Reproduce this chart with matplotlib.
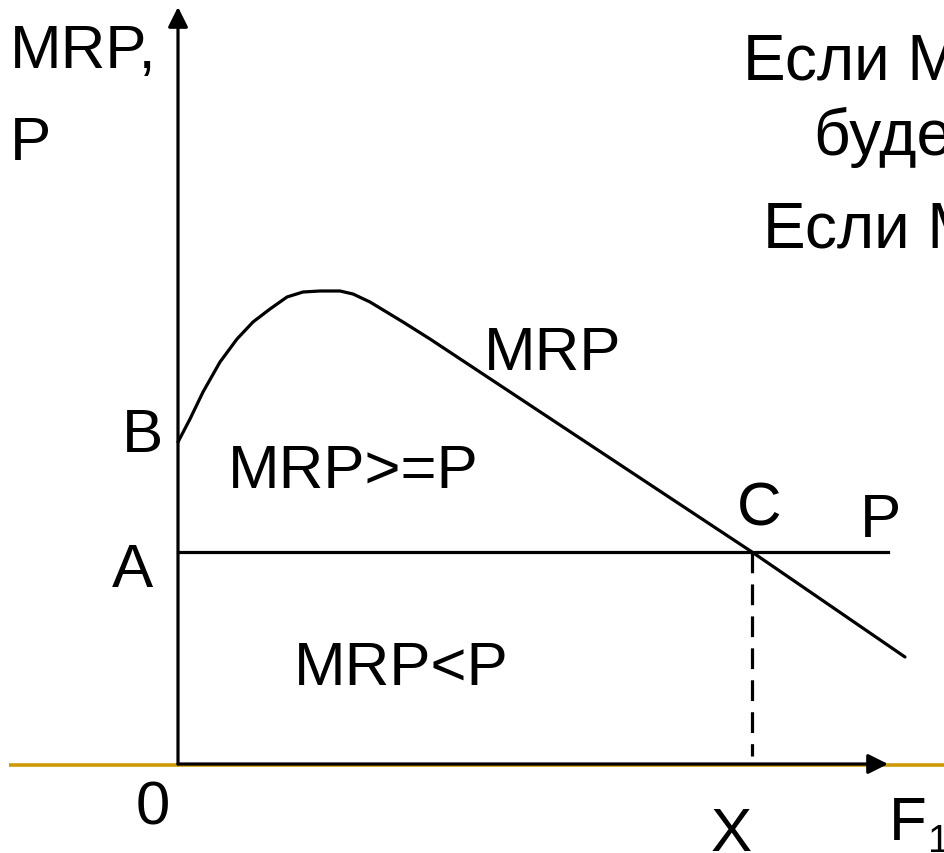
import matplotlib
matplotlib.use("Agg")
import matplotlib.pyplot as plt

# --- data (economic units: quantity of factor, value) ---
mrp_x = [0, 12, 25, 42, 59, 75, 92, 109, 125, 142, 162, 175, 192, 225, 252, 574, 727]
mrp_y = [322, 345, 372, 402, 425, 442, 455, 467, 472, 473, 473, 470, 462, 442, 425, 212, 107]
price = 212
price_x = [0, 710]
x_eq = 574
x_axis_end = 710
y_axis_end = 757

W, H = 944, 854
OX, OY = 178, 765  # origin in pixels

plt.rcParams['font.family'] = ['Liberation Sans', 'DejaVu Sans']
fig = plt.figure(figsize=(W / 100, H / 100), dpi=100)
ax = fig.add_axes([0, 0, 1, 1])
ax.set_xlim(-OX, W - OX)
ax.set_ylim(-(H - OY), OY)
ax.axis('off')

lw = 2.3
# golden baseline
ax.plot([-OX + 9, W - OX], [-1, -1], color='#CC9A06', lw=2.6, solid_capstyle='butt', zorder=1)

# axes with arrows
ax.annotate('', xy=(0, y_axis_end), xytext=(0, 0),
            arrowprops=dict(arrowstyle='-|>', lw=lw, color='black', mutation_scale=30,
                            shrinkA=0, shrinkB=0), zorder=3)
ax.annotate('', xy=(x_axis_end, 0), xytext=(0, 0),
            arrowprops=dict(arrowstyle='-|>', lw=lw, color='black', mutation_scale=30,
                            shrinkA=0, shrinkB=0), zorder=3)

# MRP curve
ax.plot(mrp_x, mrp_y, color='black', lw=lw, solid_joinstyle='round',
        solid_capstyle='round', zorder=3)
# price line
ax.plot(price_x, [price, price], color='black', lw=lw, zorder=3)
# dashed drop line
ax.plot([x_eq, x_eq], [price, 8], color='black', lw=lw, dashes=(6.5, 3.5), zorder=3)

FS = 44.5


def T(px, py, s, size=FS, **kw):
    ax.text(px - OX, OY - py, s, fontsize=size, ha='left', va='baseline', color='black', **kw)


T(10, 68, 'MRP,')
T(10, 160, 'P')
T(743, 80, 'Если MRP>P, фирма', size=46)
T(814, 155, 'будет нанимать', size=46)
T(763, 248, 'Если MRP<P', size=46)
T(484, 370, 'MRP')
T(122, 452, 'B')
T(228, 488, 'MRP>=P')
T(737, 525, 'C')
T(860, 537, 'P')
T(112, 587, 'A')
T(294, 685, 'MRP<P')
T(136, 825, '0')
T(711, 851, 'X')
T(889, 840, 'F')
T(928, 852, '1', size=28)

fig.savefig('out.png', dpi=100)
